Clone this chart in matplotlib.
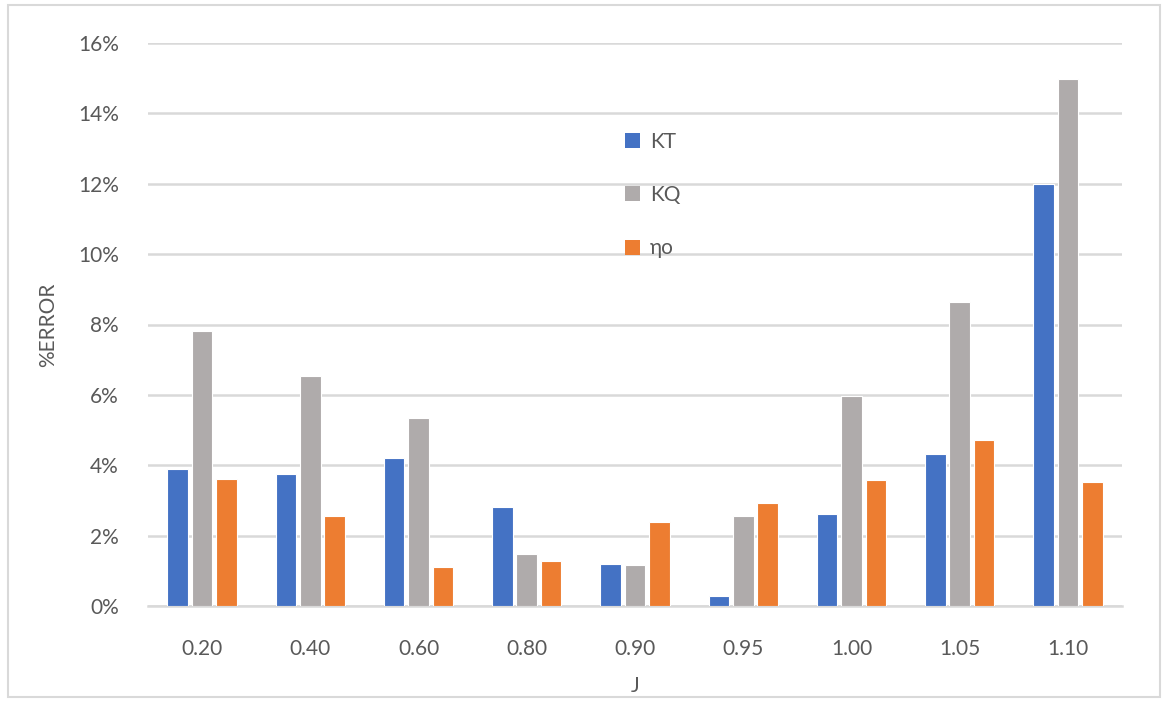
import numpy as np
import matplotlib.pyplot as plt
from matplotlib.patches import Patch, Rectangle
from matplotlib.ticker import PercentFormatter

# Advance coefficients J and the error of each quantity (fractions)
j_labels = ["0.20", "0.40", "0.60", "0.80", "0.90", "0.95", "1.00", "1.05", "1.10"]
kt_err = [0.0389, 0.0376, 0.0420, 0.0280, 0.0120, 0.0028, 0.0262, 0.0432, 0.1199]
kq_err = [0.0781, 0.0653, 0.0535, 0.0147, 0.0117, 0.0257, 0.0596, 0.0864, 0.1499]
eta_err = [0.0362, 0.0257, 0.0112, 0.0129, 0.0240, 0.0292, 0.0358, 0.0472, 0.0353]

series = [("KT", kt_err, "#4472C4"),
          ("KQ", kq_err, "#AFABAB"),
          ("ηo", eta_err, "#ED7D31")]

plt.rcParams["font.family"] = ["Lato", "DejaVu Sans"]
text_col = "#595959"
grid_col = "#D9D9D9"
fs = 15

fig = plt.figure(figsize=(11.68, 7.02), dpi=100)
ax = fig.add_axes([148 / 1168, 1 - 606 / 702, 974 / 1168, 563 / 702])

x = np.arange(len(j_labels))
pitch = 0.225
for i, (name, vals, col) in enumerate(series):
    ax.bar(x + (i - 1) * pitch, vals, width=0.19, color=col,
           edgecolor="white", linewidth=0.8, label=name, zorder=3)

ax.set_xlim(-0.5, len(j_labels) - 0.5)
ax.set_ylim(0, 0.16)
ax.set_yticks(np.arange(0, 0.161, 0.02))
ax.yaxis.set_major_formatter(PercentFormatter(1.0, decimals=0))
ax.set_xticks(x)
ax.set_xticklabels(j_labels)

ax.grid(axis="y", color=grid_col, linewidth=1.8, zorder=0)
for s in ["top", "right", "left"]:
    ax.spines[s].set_visible(False)
ax.spines["bottom"].set_color(grid_col)
ax.spines["bottom"].set_linewidth(1.8)
ax.tick_params(axis="both", length=0, labelsize=fs, colors=text_col)
ax.tick_params(axis="x", pad=24)
ax.tick_params(axis="y", pad=21)

ax.set_xlabel("J", fontsize=fs, color=text_col, labelpad=12)
ax.set_ylabel("%ERROR", fontsize=fs, color=text_col, labelpad=14)

handles = [Patch(facecolor=c, edgecolor="none") for _, _, c in series]
ax.legend(handles, [s[0] for s in series], loc="upper left",
          bbox_to_anchor=(606 / 1168, 1 - 113 / 702), bbox_transform=fig.transFigure,
          frameon=False, fontsize=fs, labelcolor=text_col,
          handlelength=0.75, handleheight=0.75, handletextpad=0.45, labelspacing=1.6)

# thin frame round the whole chart area
fig.patches.append(Rectangle((8 / 1168, 5 / 702), 1152 / 1168, 692 / 702,
                             transform=fig.transFigure, fill=False,
                             edgecolor=grid_col, linewidth=1.5))

fig.savefig("out.png", dpi=100)
